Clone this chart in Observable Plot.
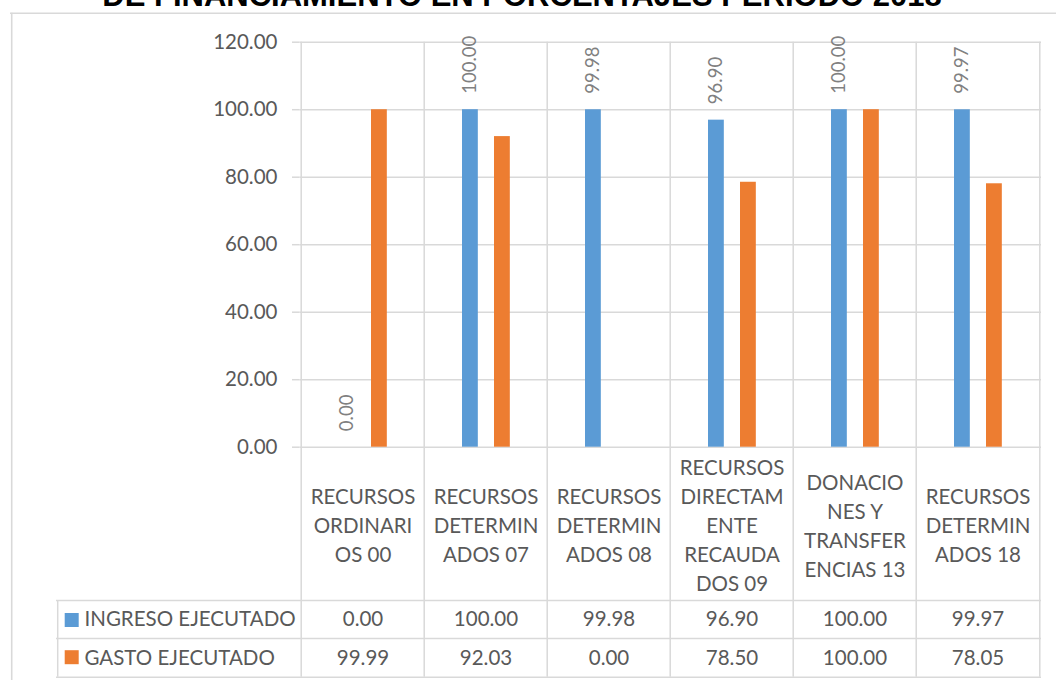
<!DOCTYPE html>
<html>
<head>
<meta charset="utf-8">
<script src="https://cdn.jsdelivr.net/npm/d3@7"></script>
<script src="https://cdn.jsdelivr.net/npm/@observablehq/plot@0.6"></script>
<style>
  html, body { margin: 0; padding: 0; background: #fff; overflow: hidden; }
  #wrap { position: relative; width: 1056px; height: 680px; overflow: hidden; }
  #title { position: absolute; left: 0; top: -20px; width: 1044px; text-align: center;
           font-family: "Liberation Sans", Arial, sans-serif; font-weight: bold; font-size: 31px;
           line-height: 31px; color: #000; white-space: nowrap; z-index: 3; }
  #chart { position: absolute; left: 0; top: 0; }
  #chart svg { display: block; }
</style>
</head>
<body>
<div id="wrap">
  <div id="title">DE FINANCIAMIENTO EN PORCENTAJES PERIODO 2018</div>
  <div id="chart"></div>
</div>
<script>
const categories = [
  "RECURSOS ORDINARIOS 00",
  "RECURSOS DETERMINADOS 07",
  "RECURSOS DETERMINADOS 08",
  "RECURSOS DIRECTAMENTE RECAUDADOS 09",
  "DONACIONES Y TRANSFERENCIAS 13",
  "RECURSOS DETERMINADOS 18"
];
const categoryLabels = [
  "RECURSOS\nORDINARI\nOS 00",
  "RECURSOS\nDETERMIN\nADOS 07",
  "RECURSOS\nDETERMIN\nADOS 08",
  "RECURSOS\nDIRECTAM\nENTE\nRECAUDA\nDOS 09",
  "DONACIO\nNES Y\nTRANSFER\nENCIAS 13",
  "RECURSOS\nDETERMIN\nADOS 18"
];
const series = ["INGRESO EJECUTADO", "GASTO EJECUTADO"];
const ingreso = [0.00, 100.00, 99.98, 96.90, 100.00, 99.97];
const gasto = [99.99, 92.03, 0.00, 78.50, 100.00, 78.05];
const yTicks = [0, 20, 40, 60, 80, 100, 120];

const colors = ["#5B9BD5", "#ED7D31"];
const grid = "#d9d9d9";
const textColor = "#595959";

const W = 1056, H = 680;
const pL = 299.5, pR = 1041, pT = 41.7, pB = 446.7;
const bw = (pR - pL) / categories.length;

const rows = [ingreso, gasto].map((vals, s) =>
  categories.map((c, i) => ({cat: c, serie: series[s], value: vals[i], label: categoryLabels[i]}))
);
const fmt = d3.format(".2f");

// table geometry (relative to the bottom of the plot frame)
const headerBottom = 600 - pB;
const row1Bottom = 638 - pB;
const tableBottom = 676.7 - pB;
const labelCenter = (pB + 600) / 2 - pB;
const rowCenters = [619.3 - pB, 657.8 - pB];
const swatchCenters = [619.5 - pB, 656.7 - pB];
const headerLeft = 56;
const chartLeft = 10, chartTop = 12.7;

const marks = [
  // outer chart border (top and left edges; the others fall outside the picture)
  Plot.ruleY([0], {dy: -(pB - chartTop), stroke: grid, strokeWidth: 1.6, insetLeft: -(pL - chartLeft), insetRight: -30}),
  Plot.ruleX([categories[0]], {x: d => d, dx: -bw / 2 - (pL - chartLeft), stroke: grid, strokeWidth: 1.6,
    insetTop: -(pT - chartTop), insetBottom: -(H + 5 - pB)}),
  // horizontal gridlines
  Plot.ruleY(yTicks, {stroke: grid, strokeWidth: 1.5}),
  // vertical category separators (extend through the data table)
  Plot.ruleX(categories, {x: d => d, dx: -bw / 2, stroke: grid, strokeWidth: 1.5, insetBottom: -tableBottom}),
  Plot.ruleX([categories[categories.length - 1]], {x: d => d, dx: bw / 2, stroke: grid, strokeWidth: 1.5, insetBottom: -tableBottom}),
  // table horizontal lines
  Plot.ruleY([0], {dy: headerBottom, stroke: grid, strokeWidth: 1.5, insetLeft: -(pL - headerLeft)}),
  Plot.ruleY([0], {dy: row1Bottom, stroke: grid, strokeWidth: 1.5, insetLeft: -(pL - headerLeft)}),
  Plot.ruleY([0], {dy: tableBottom, stroke: grid, strokeWidth: 1.5, insetLeft: -(pL - headerLeft)}),
  // row header left border
  Plot.ruleX([categories[0]], {x: d => d, dx: -bw / 2 - (pL - headerLeft), stroke: grid, strokeWidth: 1.5,
    insetTop: (pB - pT) + headerBottom, insetBottom: -tableBottom}),
  // y axis
  Plot.axisY(yTicks, {tickFormat: fmt, tickSize: 7.5, tickPadding: 15, stroke: grid, strokeWidth: 1.5,
    fill: textColor, fontSize: 20.5, label: null}),
  // bars
  Plot.barY(rows[0], {x: "cat", y: "value", fill: colors[0], insetLeft: 38, insetRight: bw - 54.4}),
  Plot.barY(rows[1], {x: "cat", y: "value", fill: colors[1], insetLeft: 70, insetRight: bw - 86.4}),
  // value labels (ingreso)
  Plot.text(rows[0], {x: "cat", y: "value", text: d => fmt(d.value), rotate: -90, textAnchor: "start",
    lineAnchor: "middle", dx: 46.3 - bw / 2, dy: -16, fill: "#808080", fontSize: 18.5}),
  // category labels in the table header
  Plot.text(rows[0], {x: "cat", text: "label", frameAnchor: "bottom", lineAnchor: "middle",
    dy: labelCenter, lineHeight: 1.415, fill: textColor, fontSize: 20.5})
];

series.forEach((s, k) => {
  marks.push(
    Plot.text(rows[k], {x: "cat", text: d => fmt(d.value), frameAnchor: "bottom", lineAnchor: "middle",
      dy: rowCenters[k], fill: textColor, fontSize: 20.5}),
    Plot.text([s], {text: d => d, frameAnchor: "bottom-left", textAnchor: "start", lineAnchor: "middle",
      dx: 84 - pL, dy: rowCenters[k], fill: textColor, fontSize: 20.5}),
    Plot.dot([s], {frameAnchor: "bottom-left", dx: 71.2 - pL, dy: swatchCenters[k], symbol: "square",
      r: Math.sqrt(196 / Math.PI), fill: colors[k], stroke: null})
  );
});

const plot = Plot.plot({
  width: W,
  height: H,
  marginLeft: pL,
  marginRight: W - pR,
  marginTop: pT,
  marginBottom: H - pB,
  style: {fontFamily: "Lato, 'Open Sans', sans-serif", fontSize: "20.5px", background: "white", overflow: "visible"},
  x: {type: "band", domain: categories, padding: 0, axis: null},
  y: {domain: [0, 120], axis: null},
  marks
});
document.getElementById("chart").append(plot);
</script>
</body>
</html>
